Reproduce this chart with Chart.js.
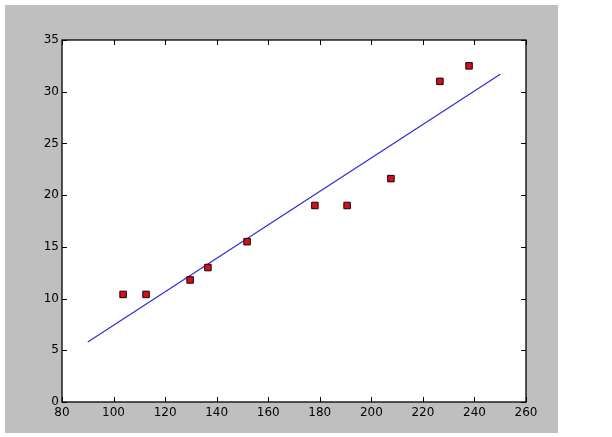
<!DOCTYPE html>
<html>
<head>
<meta charset="utf-8">
<script src="https://cdn.jsdelivr.net/npm/chart.js@4/dist/chart.umd.min.js"></script>
<style>
  html, body { margin: 0; padding: 0; background: #ffffff; }
  canvas { display: block; }
</style>
</head>
<body>
<canvas id="myChart" width="612" height="437"></canvas>
<script>
// measured points (red squares)
var pointX = [103.7, 112.6, 129.7, 136.6, 151.8, 178.1, 190.6, 207.6, 226.6, 237.9];
var pointY = [10.4, 10.4, 11.8, 13.0, 15.5, 19.0, 19.0, 21.6, 31.0, 32.5];

// fitted line (blue)
var fitX = [90, 250];
var fitY = [5.8, 31.7];

// axis ticks
var xTicks = [80, 100, 120, 140, 160, 180, 200, 220, 240, 260];
var yTicks = [0, 5, 10, 15, 20, 25, 30, 35];

function toXY(xs, ys) {
  return xs.map(function(x, i) { return { x: x, y: ys[i] }; });
}

// grey figure background + white axes box
var frameBg = {
  id: "frameBg",
  beforeDraw: function(chart) {
    var ctx = chart.ctx;
    var a = chart.chartArea;
    ctx.save();
    ctx.fillStyle = "#ffffff";
    ctx.fillRect(0, 0, chart.width, chart.height);
    ctx.fillStyle = "#bfbfbf";
    ctx.fillRect(5, 5, 553, 428);
    ctx.fillStyle = "#ffffff";
    ctx.fillRect(a.left, a.top, a.right - a.left, a.bottom - a.top);
    ctx.restore();
  },
  afterDraw: function(chart) {
    // inward ticks on all four sides, then the black frame
    var ctx = chart.ctx;
    var a = chart.chartArea;
    var xs = chart.scales.x;
    var ys = chart.scales.y;
    var len = 5;
    ctx.save();
    ctx.strokeStyle = "#000000";
    ctx.lineWidth = 1;
    ctx.beginPath();
    xTicks.forEach(function(v) {
      var px = Math.round(xs.getPixelForValue(v)) + 0.5;
      ctx.moveTo(px, a.bottom);
      ctx.lineTo(px, a.bottom - len);
      ctx.moveTo(px, a.top);
      ctx.lineTo(px, a.top + len);
    });
    yTicks.forEach(function(v) {
      var py = Math.round(ys.getPixelForValue(v)) + 0.5;
      ctx.moveTo(a.left, py);
      ctx.lineTo(a.left + len, py);
      ctx.moveTo(a.right, py);
      ctx.lineTo(a.right - len, py);
    });
    ctx.stroke();
    ctx.lineWidth = 1.3;
    ctx.strokeRect(a.left, a.top, a.right - a.left, a.bottom - a.top);
    ctx.restore();
  }
};

var ctx = document.getElementById("myChart").getContext("2d");
var chart = new Chart(ctx, {
  type: "scatter",
  data: {
    datasets: [
      {
        label: "data",
        data: toXY(pointX, pointY),
        pointStyle: "rect",
        pointRadius: 4.6,
        backgroundColor: "#d40f1c",
        borderColor: "#1a0000",
        borderWidth: 1,
        order: 0
      },
      {
        label: "fit",
        data: toXY(fitX, fitY),
        showLine: true,
        pointRadius: 0,
        borderColor: "#2b2bdc",
        borderWidth: 1.2,
        backgroundColor: "#2b2bdc",
        order: 1
      }
    ]
  },
  options: {
    responsive: false,
    animation: false,
    layout: {
      padding: { left: 0, top: 40, right: 86, bottom: 0 }
    },
    plugins: {
      legend: { display: false },
      tooltip: { enabled: false }
    },
    scales: {
      x: {
        type: "linear",
        min: 80,
        max: 260,
        grid: { display: false, drawTicks: false },
        border: { display: false },
        afterFit: function(scale) { scale.height = 35; },
        afterBuildTicks: function(scale) {
          scale.ticks = xTicks.map(function(v) { return { value: v }; });
        },
        ticks: {
          padding: 4,
          autoSkip: false,
          color: "#000000",
          font: { family: "DejaVu Sans", size: 12 },
          maxRotation: 0
        }
      },
      y: {
        type: "linear",
        min: 0,
        max: 35,
        grid: { display: false, drawTicks: false },
        border: { display: false },
        afterFit: function(scale) { scale.width = 62; },
        afterBuildTicks: function(scale) {
          scale.ticks = yTicks.map(function(v) { return { value: v }; });
        },
        ticks: {
          padding: 3,
          autoSkip: false,
          color: "#000000",
          font: { family: "DejaVu Sans", size: 12 }
        }
      }
    }
  },
  plugins: [frameBg]
});
</script>
</body>
</html>
